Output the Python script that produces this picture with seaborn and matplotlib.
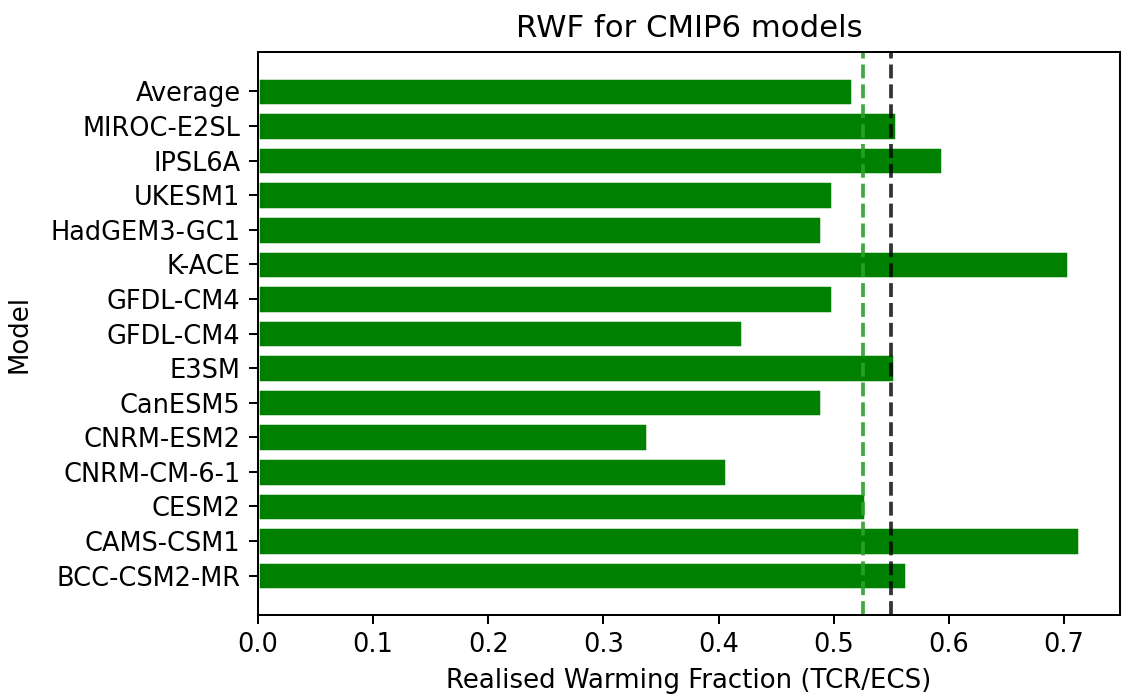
import matplotlib
matplotlib.use("Agg")
import matplotlib.pyplot as plt
import seaborn as sns
import pandas as pd

models = ["Average", "MIROC-E2SL", "IPSL6A", "UKESM1", "HadGEM3-GC1", "K-ACE",
          "GFDL-CM4", "GFDL-CM4 ", "E3SM", "CanESM5", "CNRM-ESM2", "CNRM-CM-6-1",
          "CESM2", "CAMS-CSM1", "BCC-CSM2-MR"]
tick_labels = ["Average", "MIROC-E2SL", "IPSL6A", "UKESM1", "HadGEM3-GC1", "K-ACE",
               "GFDL-CM4", "GFDL-CM4", "E3SM", "CanESM5", "CNRM-ESM2", "CNRM-CM-6-1",
               "CESM2", "CAMS-CSM1", "BCC-CSM2-MR"]
rwf = [0.516, 0.554, 0.594, 0.498, 0.489, 0.703, 0.498, 0.420, 0.552, 0.489,
       0.338, 0.406, 0.527, 0.713, 0.563]
mean_line = 0.525
ref_line = 0.550

sns.set_style("ticks")
plt.rcParams['font.family'] = ['DejaVu Sans']
plt.rcParams['text.color'] = 'black'
plt.rcParams['axes.labelcolor'] = 'black'
plt.rcParams['xtick.color'] = 'black'
plt.rcParams['ytick.color'] = 'black'

df = pd.DataFrame({"Model": models, "RWF": rwf})

fig = plt.figure(figsize=(1121/180, 697/180), dpi=180)
ax = fig.add_axes([258/1121, 1 - 615/697, (1120-258)/1121, (615-52)/697])

sns.barplot(data=df, x="RWF", y="Model", orient="h", color="green",
            saturation=1, width=0.8, ax=ax, order=models)
ax.axvline(mean_line, color="#2ca02c", linestyle="--", linewidth=1.5, alpha=0.9)
ax.axvline(ref_line, color="black", linestyle="--", linewidth=1.5, alpha=0.8)

ax.set_yticks(range(len(models)))
ax.set_yticklabels(tick_labels)
ax.set_xlim(0, 0.7485)
ax.set_ylim(len(models) - 1 + 1.14, -1.14)
ax.set_xticks([0.0, 0.1, 0.2, 0.3, 0.4, 0.5, 0.6, 0.7])
ax.set_xlabel("Realised Warming Fraction (TCR/ECS)", fontsize=10.4)
ax.set_ylabel("Model", fontsize=10.4, labelpad=7)
ax.set_title("RWF for CMIP6 models", fontsize=12.3)
ax.tick_params(labelsize=10.25, length=3.5, width=0.8, color="black")
for s in ax.spines.values():
    s.set_visible(True)
    s.set_linewidth(0.8)
    s.set_color("black")

fig.savefig("out.png", dpi=180)
